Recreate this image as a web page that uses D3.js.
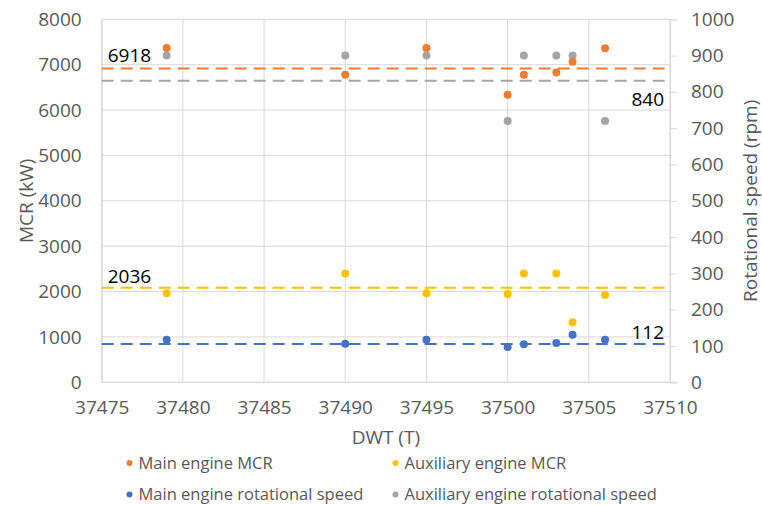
<!DOCTYPE html>
<html>
<head>
<meta charset="utf-8">
<script src="https://cdn.jsdelivr.net/npm/d3@7/dist/d3.min.js"></script>
<style>
  html, body { margin: 0; padding: 0; background: #ffffff; }
  svg { display: block; }
  text { font-family: "Open Sans", "Liberation Sans", sans-serif; }
</style>
</head>
<body>
<svg id="chart" width="762" height="505"></svg>
<script>
// ---- data ----
const dwt = [37479, 37490, 37495, 37500, 37501, 37503, 37504, 37506];
const mainEngineMCR = [7370, 6780, 7365, 6335, 6780, 6825, 7065, 7360];          // kW, left axis
const auxEngineMCR = [1965, 2400, 1965, 1945, 2400, 2400, 1325, 1925];           // kW, left axis
const mainEngineSpeed = [117, 106, 117, 97, 105, 108, 131, 117];                 // rpm, right axis
const auxEngineSpeed = [900, 900, 900, 720, 900, 900, 900, 720];                 // rpm, right axis

const seriesNames = ["Main engine MCR", "Auxiliary engine MCR", "Main engine rotational speed", "Auxiliary engine rotational speed"];
// average reference lines (value as drawn, label as printed)
const refLineValues = [6918, 2085, 105.5, 831];
const refLineLabels = ["6918", "2036", "112", "840"];

const xTicks = [37475, 37480, 37485, 37490, 37495, 37500, 37505, 37510];
const yLeftTicks = [0, 1000, 2000, 3000, 4000, 5000, 6000, 7000, 8000];
const yRightTicks = [0, 100, 200, 300, 400, 500, 600, 700, 800, 900, 1000];

// ---- layout / style ----
const colors = ["#ED7D31", "#FFC000", "#4472C4", "#A5A5A5"];
const axisSide = ["left", "left", "right", "right"];
const plot = { left: 101.7, right: 670, top: 19.3, bottom: 382.3 };
const tickColor = "#595959";
const gridColor = "#D9D9D9";
const fmt = d3.format("d");

const svg = d3.select("#chart");
const x = d3.scaleLinear().domain([37475, 37510]).range([plot.left, plot.right]);
const yL = d3.scaleLinear().domain([0, 8000]).range([plot.bottom, plot.top]);
const yR = d3.scaleLinear().domain([0, 1000]).range([plot.bottom, plot.top]);
const scaleFor = s => axisSide[s] === "left" ? yL : yR;

// gridlines
const grid = svg.append("g");
grid.selectAll("line.h").data(yLeftTicks).join("line")
  .attr("x1", plot.left).attr("x2", plot.right)
  .attr("y1", d => yL(d)).attr("y2", d => yL(d))
  .attr("stroke", gridColor).attr("stroke-width", 1);
grid.selectAll("line.v").data(xTicks).join("line")
  .attr("x1", d => x(d)).attr("x2", d => x(d))
  .attr("y1", plot.top).attr("y2", plot.bottom)
  .attr("stroke", gridColor).attr("stroke-width", 1);

// left axis
const gL = svg.append("g").attr("transform", `translate(${plot.left},0)`)
  .call(d3.axisLeft(yL).tickValues(yLeftTicks).tickFormat(fmt).tickSize(0).tickPadding(20));
gL.select(".domain").attr("stroke", gridColor);
gL.selectAll("text").attr("fill", tickColor).style("font-size", "19px");

// right axis
const gR = svg.append("g").attr("transform", `translate(${plot.right},0)`)
  .call(d3.axisRight(yR).tickValues(yRightTicks).tickFormat(fmt).tickSize(7).tickPadding(14));
gR.select(".domain").attr("stroke", gridColor);
gR.selectAll("line").attr("stroke", gridColor);
gR.selectAll("text").attr("fill", tickColor).style("font-size", "19px");

// bottom axis
const gB = svg.append("g").attr("transform", `translate(0,${plot.bottom})`)
  .call(d3.axisBottom(x).tickValues(xTicks).tickFormat(fmt).tickSize(0).tickPadding(18));
gB.select(".domain").remove();
gB.selectAll("text").attr("fill", tickColor).style("font-size", "19px");
svg.append("line").attr("x1", plot.left).attr("x2", plot.right + 7)
  .attr("y1", plot.bottom).attr("y2", plot.bottom).attr("stroke", gridColor);

// axis titles
svg.append("text").attr("transform", `translate(33,${(plot.top + plot.bottom) / 2}) rotate(-90)`)
  .attr("text-anchor", "middle").attr("fill", tickColor).style("font-size", "19px").text("MCR (kW)");
svg.append("text").attr("transform", `translate(757,${(plot.top + plot.bottom) / 2}) rotate(-90)`)
  .attr("text-anchor", "middle").attr("fill", tickColor).style("font-size", "19px").text("Rotational speed (rpm)");
svg.append("text").attr("x", (plot.left + plot.right) / 2).attr("y", 444)
  .attr("text-anchor", "middle").attr("fill", tickColor).style("font-size", "19px").text("DWT (T)");

// reference (average) lines
const refOrder = [0, 1, 2, 3];
svg.append("g").selectAll("line").data(refOrder).join("line")
  .attr("x1", plot.left).attr("x2", plot.right)
  .attr("y1", i => scaleFor(i)(refLineValues[i])).attr("y2", i => scaleFor(i)(refLineValues[i]))
  .attr("stroke", i => colors[i]).attr("stroke-width", 2).attr("stroke-dasharray", "12,7");

// points
const allSeries = [mainEngineMCR, auxEngineMCR, mainEngineSpeed, auxEngineSpeed];
const drawOrder = [3, 2, 1, 0];
drawOrder.forEach(s => {
  svg.append("g").selectAll("circle").data(allSeries[s]).join("circle")
    .attr("cx", (d, i) => x(dwt[i]))
    .attr("cy", d => scaleFor(s)(d))
    .attr("r", 4)
    .attr("fill", colors[s]);
});

// reference labels
const labelSpec = [
  { anchor: "start", atLeft: true, dy: -6 },
  { anchor: "start", atLeft: true, dy: -5 },
  { anchor: "end", atLeft: false, dy: -5 },
  { anchor: "end", atLeft: false, dy: 25 }
];
refOrder.forEach(i => {
  const sp = labelSpec[i];
  svg.append("text")
    .attr("x", sp.atLeft ? plot.left + 6 : plot.right - 6)
    .attr("y", scaleFor(i)(refLineValues[i]) + sp.dy)
    .attr("text-anchor", sp.anchor)
    .attr("fill", "#000000").style("font-size", "19px")
    .text(refLineLabels[i]);
});

// legend
const legendPos = [[129.5, 463], [395.5, 463], [129.5, 494.5], [395.5, 494.5]];
const lg = svg.append("g");
seriesNames.forEach((name, i) => {
  const [lx, ly] = legendPos[i];
  lg.append("circle").attr("cx", lx).attr("cy", ly).attr("r", 3).attr("fill", colors[i]);
  lg.append("text").attr("x", lx + 9).attr("y", ly).attr("dy", "0.35em")
    .attr("fill", tickColor).style("font-size", "16.5px").text(name);
});
</script>
</body>
</html>
